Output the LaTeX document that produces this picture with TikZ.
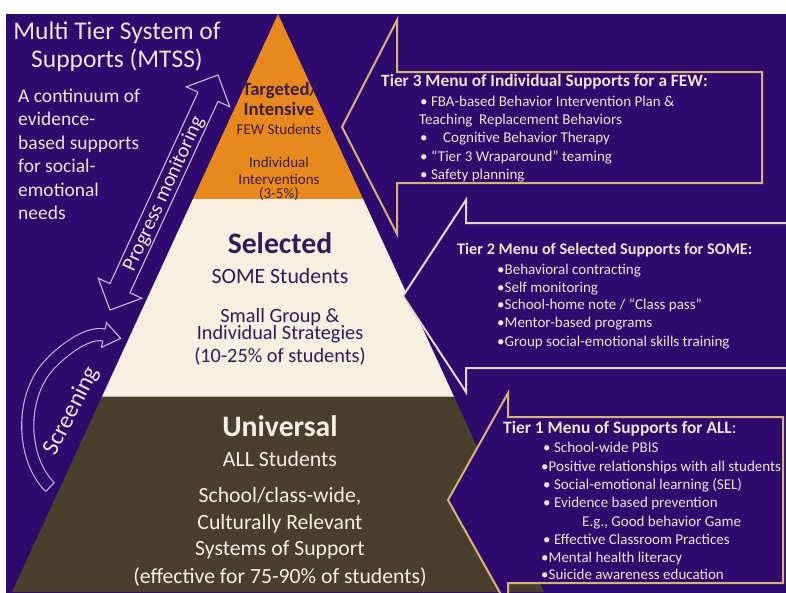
\documentclass[tikz,border=0pt]{standalone}
\usepackage{fontspec}
\setmainfont{Carlito}
\definecolor{bgpurple}{RGB}{46,10,110}
\definecolor{tierorange}{RGB}{232,137,30}
\definecolor{tiercream}{RGB}{247,239,224}
\definecolor{tierbrown}{RGB}{74,63,42}
\definecolor{goldline}{RGB}{214,180,118}
\definecolor{paleline}{RGB}{232,214,200}
\definecolor{lavline}{RGB}{205,185,220}
\definecolor{lighttxt}{RGB}{238,228,212}
\definecolor{darkpurp}{RGB}{48,28,88}
\definecolor{orangetxt}{RGB}{62,30,70}
\definecolor{browntxt}{RGB}{246,240,228}
\tikzset{
  tierbox/.style={fill=bgpurple, line width=2pt, line join=miter},
  lt/.style={text=lighttxt, inner sep=0pt},
  menu/.style={lt, anchor=base west, font=\fontsize{15}{18}\selectfont},
  menuhead/.style={lt, anchor=base west, font=\fontsize{#1}{20}\selectfont\bfseries},
  ot/.style={text=orangetxt, inner sep=0pt, anchor=base},
  ct/.style={text=darkpurp, inner sep=0pt, anchor=base},
  bt/.style={text=browntxt, inner sep=0pt, anchor=base},
  sz/.style={font=\fontsize{#1}{#1}\selectfont},
  bsz/.style={font=\fontsize{#1}{#1}\selectfont\bfseries},
  lavarrow/.style={draw=lavline, line width=1.1pt, line join=miter}
}
\begin{document}
\begin{tikzpicture}[x=1pt,y=-1pt]
\useasboundingbox (0,0) rectangle (786,592);
\clip (0,0) rectangle (786,592);
\fill[white] (0,0) rectangle (786,592);
\fill[bgpurple] (6,14) rectangle (790,596);

% pyramid
\coordinate (apex) at (278,14);
\coordinate (o1) at (192.9,199);
\coordinate (o2) at (363.1,199);
\coordinate (c1) at (102.3,396);
\coordinate (c2) at (453.7,396);
\coordinate (b1) at (12,592);
\coordinate (b2) at (544,592);
\fill[tierorange] (apex) -- (o2) -- (o1) -- cycle;
\fill[tiercream] (o1) -- (o2) -- (c2) -- (c1) -- cycle;
\fill[tierbrown] (c1) -- (c2) -- (b2) -- (b1) -- cycle;
\draw[tiercream!80!white, line width=0.6pt] (o1) -- (o2);
\draw[tiercream!70!tierbrown, line width=0.8pt] (c1) -- (c2);

% tier menu arrows
\draw[tierbox, draw=goldline] (342,127) -- (397,20) -- (397,72) -- (762,72) -- (762,183) -- (397,183) -- (397,234) -- cycle;
\draw[tierbox, draw=paleline] (403,296) -- (466,200) -- (466,223) -- (800,223) -- (800,368) -- (466,368) -- (466,392) -- cycle;
\draw[tierbox, draw=goldline] (448,500) -- (508,393) -- (508,417) -- (783,417) -- (783,583) -- (508,583) -- (508,607) -- cycle;

% left title and text
\node[lt, anchor=base, sz=25.5] (title1) at (117,39) {Multi Tier System of};
\node[lt, anchor=base, sz=25.5] (title2) at (117,67) {Supports (MTSS)};
\node[lt, anchor=base west, sz=19.5] (body1) at (18,102.3) {A continuum of};
\node[lt, anchor=base west, sz=19.5] (body2) at (18,125.8) {evidence-};
\node[lt, anchor=base west, sz=19.5] (body3) at (18,149.3) {based supports};
\node[lt, anchor=base west, sz=19.5] (body4) at (18,172.8) {for social-};
\node[lt, anchor=base west, sz=19.5] (body5) at (18,196.3) {emotional};
\node[lt, anchor=base west, sz=19.5] (body6) at (18,219.8) {needs};

% progress monitoring double arrow
\draw[lavarrow, fill=bgpurple] (218,75) -- (229.8,106.8) -- (218.0,101.4) -- (130.0,292.8) -- (141.8,298.2) -- (110,310) -- (98.2,278.2) -- (110.0,283.6) -- (198.0,92.2) -- (186.2,86.8) -- cycle;
\node[lt, sz=20.5, rotate=65.3] (progress) at (164,194) {Progress monitoring};

% screening curved arrow
\draw[draw=lavline, line width=1.1pt, double=bgpurple, double distance=11pt]
  (50,487) .. controls (22,460) and (18,395) .. (52,362) .. controls (66,348) and (88,331.8) .. (104,335);
\draw[lavarrow] (54.2,482.6) -- (45.8,491.4);
\fill[bgpurple] (106.5,322.7) -- (120.7,338.4) -- (101.5,347.3) -- cycle;
\draw[lavarrow] (105.2,329.1) -- (106.5,322.7) -- (120.7,338.4) -- (101.5,347.3) -- (102.8,340.9);
\node[lt, sz=24, rotate=63] (screen) at (72,411) {Screening};

% orange tier
\node[ot, bsz=18.7] (targ) at (280,95) {Targeted/};
\node[ot, bsz=18.7] (inten) at (279,115) {Intensive};
\node[ot, sz=15] (few) at (279,134) {FEW Students};
\node[ot, sz=15] (indiv) at (279,167) {Individual};
\node[ot, sz=15] (interv) at (279,184) {Interventions};
\node[ot, sz=15] (pct3) at (279,198.5) {(3-5\%)};

% cream tier
\node[ct, bsz=29.7] (sel) at (280,253) {Selected};
\node[ct, sz=21.8] (some) at (280,283) {SOME Students};
\node[ct, sz=20.3] (small) at (280,322.5) {Small Group \&};
\node[ct, sz=20.3] (indstr) at (280,339.5) {Individual Strategies};
\node[ct, sz=20.3] (pct2) at (280,362) {(10-25\% of students)};

% brown tier
\node[bt, bsz=29.7] (univ) at (280,436) {Universal};
\node[bt, sz=21.8] (alls) at (280,466) {ALL Students};
\node[bt, sz=21.7] (school) at (280,502) {School/class-wide,};
\node[bt, sz=21.7] (cult) at (280,529) {Culturally Relevant};
\node[bt, sz=21.7] (sys) at (280,555) {Systems of Support};
\node[bt, sz=21.7] (eff) at (280,583) {(effective for 75-90\% of students)};

% tier 3 menu
\node[menuhead=17.3] (t3h) at (381,86.7) {Tier 3 Menu of Individual Supports for a FEW:};
\node[menu] (t3a) at (420,106) {• FBA-based Behavior Intervention Plan \&};
\node[menu] (t3b) at (419,124) {Teaching\ \ Replacement Behaviors};
\node[menu] (t3c) at (420,142) {\makebox[23pt][l]{•}Cognitive Behavior Therapy};
\node[menu] (t3d) at (420,161) {• “Tier 3 Wraparound” teaming};
\node[menu] (t3e) at (420,179) {• Safety planning};

% tier 2 menu
\node[menuhead=16.2] (t2h) at (457,254.4) {Tier 2 Menu of Selected Supports for SOME:};
\node[menu] (t2a) at (497,274) {•Behavioral contracting};
\node[menu] (t2b) at (497,292) {•Self monitoring};
\node[menu] (t2c) at (497,309) {•School-home note / “Class pass”};
\node[menu] (t2d) at (497,327) {•Mentor-based programs};
\node[menu] (t2e) at (497,346) {•Group social-emotional skills training};

% tier 1 menu
\node[lt, anchor=base west, font=\fontsize{17.4}{20}\selectfont] (t1h) at (503,433.7) {\bfseries Tier 1 Menu of Supports for ALL\mdseries:};
\node[menu] (t1a) at (543,452) {• School-wide PBIS};
\node[menu] (t1b) at (541,471) {•Positive relationships with all students};
\node[menu] (t1c) at (543,489) {• Social-emotional learning (SEL)};
\node[menu] (t1d) at (543,507) {• Evidence based prevention};
\node[menu] (t1e) at (582,526) {E.g., Good behavior Game};
\node[menu] (t1f) at (543,544) {• Effective Classroom Practices};
\node[menu] (t1g) at (541,562) {•Mental health literacy};
\node[menu] (t1h2) at (541,579) {•Suicide awareness education};
\end{tikzpicture}
\end{document}
